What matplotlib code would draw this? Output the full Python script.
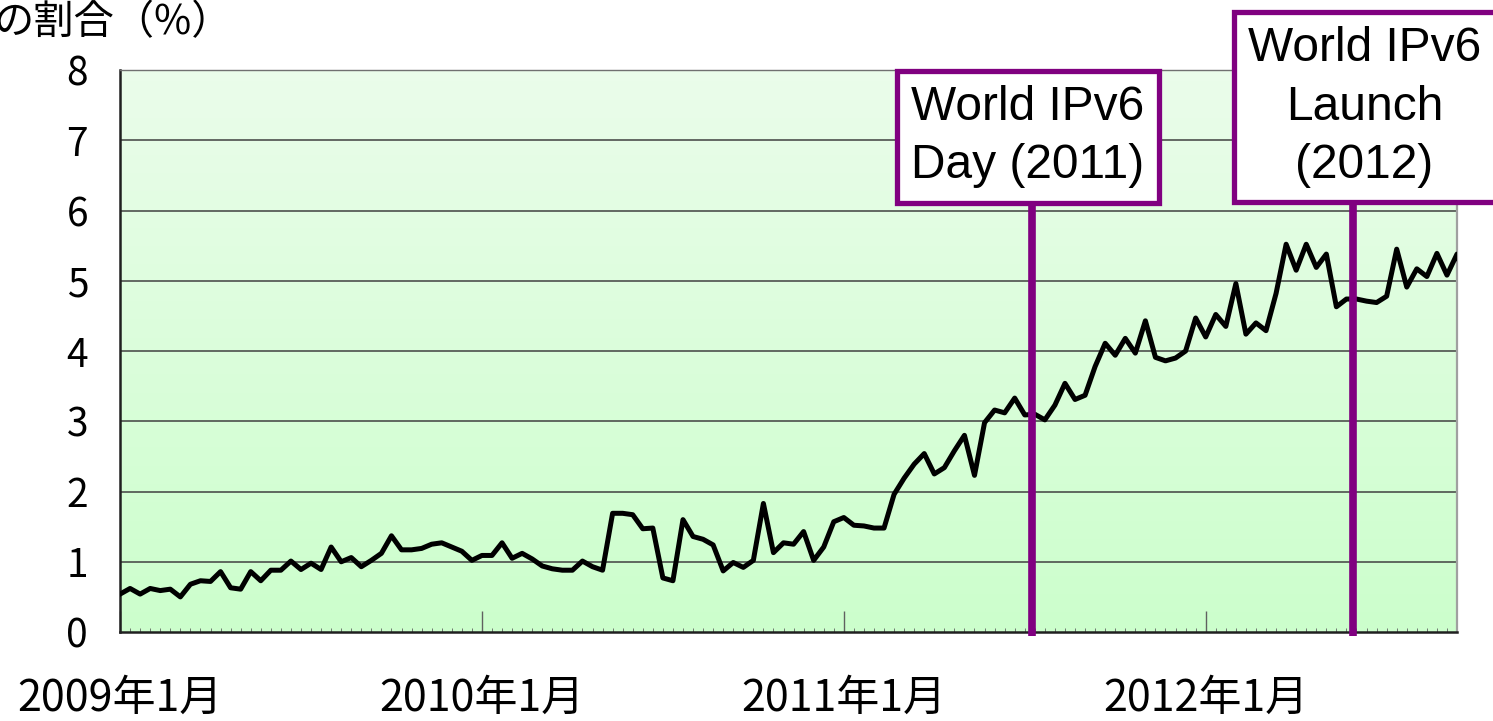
import matplotlib
import matplotlib.pyplot as plt
import numpy as np

matplotlib.use("Agg")

# share of IPv6 (%), one sample every ~10 days from 2009-01
ipv6_share = [
    0.54, 0.62, 0.54, 0.62, 0.59, 0.61, 0.50, 0.68, 0.73, 0.72,
    0.86, 0.63, 0.61, 0.86, 0.73, 0.88, 0.88, 1.01, 0.89, 0.98,
    0.89, 1.21, 1.00, 1.06, 0.93, 1.02, 1.12, 1.37, 1.17, 1.17,
    1.19, 1.25, 1.27, 1.21, 1.15, 1.02, 1.09, 1.09, 1.27, 1.05,
    1.12, 1.04, 0.94, 0.90, 0.88, 0.88, 1.01, 0.93, 0.88, 1.69,
    1.69, 1.67, 1.47, 1.48, 0.77, 0.73, 1.60, 1.36, 1.32, 1.24,
    0.87, 0.99, 0.92, 1.02, 1.83, 1.13, 1.27, 1.25, 1.43, 1.02,
    1.21, 1.57, 1.63, 1.52, 1.51, 1.48, 1.48, 1.96, 2.19, 2.39,
    2.54, 2.25, 2.34, 2.58, 2.80, 2.23, 2.98, 3.16, 3.12, 3.33,
    3.09, 3.10, 3.02, 3.23, 3.54, 3.31, 3.37, 3.78, 4.11, 3.94,
    4.18, 3.97, 4.43, 3.91, 3.86, 3.90, 4.00, 4.47, 4.20, 4.52,
    4.35, 4.96, 4.24, 4.40, 4.29, 4.82, 5.52, 5.15, 5.52, 5.19,
    5.38, 4.63, 4.74, 4.74, 4.71, 4.69, 4.78, 5.45, 4.91, 5.17,
    5.06, 5.39, 5.08, 5.38, 4.95,
]
x_ticks = [0, 36, 72, 108]
x_tick_labels = ["2009年1月", "2010年1月", "2011年1月", "2012年1月"]
y_ticks = [0, 1, 2, 3, 4, 5, 6, 7, 8]
events = [90.7, 122.7]
event_labels = ["World IPv6\nDay (2011)", "World IPv6\nLaunch\n(2012)"]
event_label_pos = [(90.3, 7.05), (123.8, 7.47)]

PURPLE = "#800080"
JP_FONT = ["Noto Sans CJK JP", "DejaVu Sans"]

fig = plt.figure(figsize=(14.93, 7.21), dpi=100)
ax = fig.add_axes([0.0804, 0.1234, 0.8955, 0.7795])

x = np.arange(len(ipv6_share))
x_max = 133

# light green vertical gradient background
grad = np.linspace(0, 1, 256).reshape(-1, 1)
top = np.array([0.92, 0.99, 0.92])
bottom = np.array([0.80, 1.00, 0.80])
colors = top + (bottom - top) * grad
ax.imshow(colors.reshape(256, 1, 3), extent=[0, x_max, 0, 8],
          aspect="auto", origin="upper", zorder=0)

for yv in y_ticks[1:-1]:
    ax.axhline(yv, color="#404040", lw=1.1, zorder=1)

ax.plot(x, ipv6_share, color="black", lw=3.6, zorder=3)

for ev in events:
    ax.plot([ev, ev], [-0.06, 6.1], color=PURPLE, lw=5.5, zorder=4,
            clip_on=False, solid_capstyle="butt")

for label, (lx, ly) in zip(event_labels, event_label_pos):
    ax.text(lx, ly, label, ha="center", va="center", fontsize=34.5,
            family="Liberation Sans", linespacing=1.38, zorder=6,
            clip_on=False,
            bbox=dict(boxstyle="square,pad=0.3", fc="white",
                      ec=PURPLE, lw=3.8))

ax.set_xlim(0, x_max)
ax.set_ylim(0, 8)

ax.set_yticks(y_ticks)
ax.set_yticklabels([str(v) for v in y_ticks], family=JP_FONT, fontsize=28)
ax.tick_params(axis="y", length=0, pad=23)

ax.set_xticks(x_ticks)
ax.set_xticklabels(x_tick_labels, family=JP_FONT, fontsize=31)
ax.set_xticks(np.arange(0, x_max + 1), minor=True)
ax.tick_params(axis="x", which="major", direction="in", length=15,
               width=1.0, color="#606060", pad=32)
ax.tick_params(axis="x", which="minor", direction="in", length=3,
               width=0.6, color="#606060")

for side in ["left", "bottom"]:
    ax.spines[side].set_color("#202020")
    ax.spines[side].set_linewidth(1.8)
ax.spines["top"].set_color("#707070")
ax.spines["top"].set_linewidth(1.0)
ax.spines["right"].set_color("#a0a0a0")
ax.spines["right"].set_linewidth(1.6)

# axis title, its start is cut off by the left edge as in the source image
fig.text(232 / 1493, 0.968, "の割合（%）", ha="right", va="center",
         fontsize=29, family=JP_FONT)

fig.savefig("out.png", dpi=100)
plt.close(fig)
